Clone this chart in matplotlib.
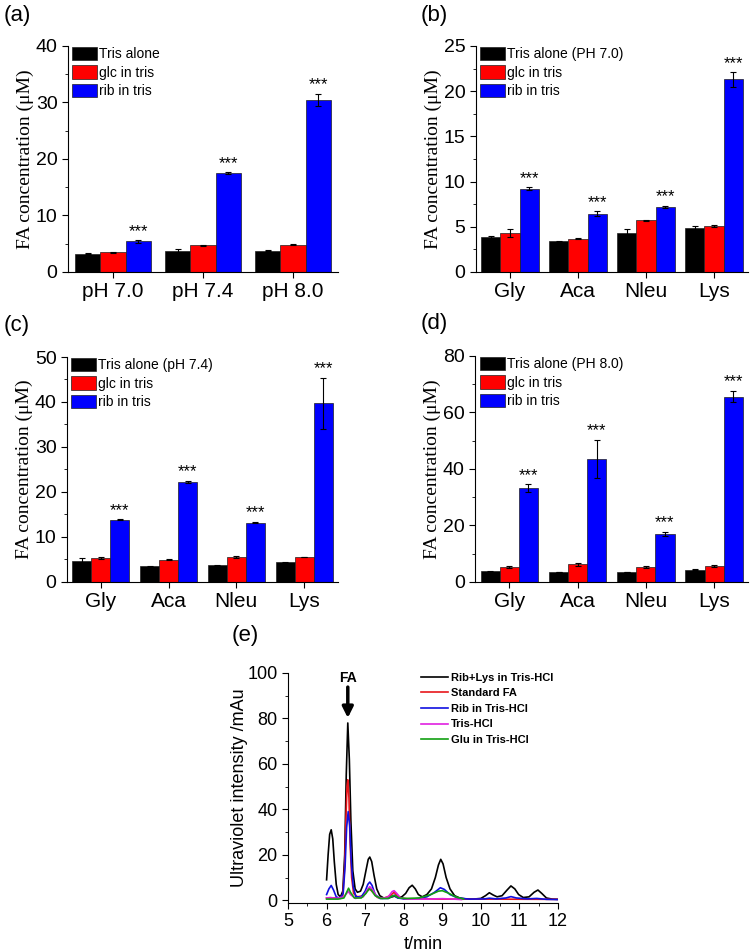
import matplotlib.pyplot as plt
from matplotlib.ticker import AutoMinorLocator, MultipleLocator

plt.rcParams['font.family'] = ['Liberation Sans', 'DejaVu Sans']

colors = ['#000000', '#ff0000', '#0000ff']

# (a) pH series
a_groups = ['pH 7.0', 'pH 7.4', 'pH 8.0']
a_tris = [3.2, 3.7, 3.8]
a_tris_err = [0.1, 0.4, 0.1]
a_glc = [3.5, 4.7, 4.85]
a_glc_err = [0.1, 0.1, 0.1]
a_rib = [5.4, 17.5, 30.4]
a_rib_err = [0.2, 0.15, 1.1]
a_labels = ['Tris alone', 'glc in tris', 'rib in tris']

amino = ['Gly', 'Aca', 'Nleu', 'Lys']

# (b) pH 7.0
b_tris = [3.85, 3.4, 4.3, 4.9]
b_tris_err = [0.1, 0.05, 0.4, 0.15]
b_glc = [4.3, 3.7, 5.7, 5.05]
b_glc_err = [0.45, 0.05, 0.05, 0.1]
b_rib = [9.2, 6.45, 7.2, 21.3]
b_rib_err = [0.15, 0.25, 0.15, 0.8]
b_labels = ['Tris alone (PH 7.0)', 'glc in tris', 'rib in tris']

# (c) pH 7.4
c_tris = [4.6, 3.5, 3.7, 4.35]
c_tris_err = [0.7, 0.15, 0.1, 0.1]
c_glc = [5.35, 4.95, 5.55, 5.55]
c_glc_err = [0.2, 0.1, 0.2, 0.1]
c_rib = [13.8, 22.3, 13.2, 39.7]
c_rib_err = [0.1, 0.2, 0.2, 5.7]
c_labels = ['Tris alone (pH 7.4)', 'glc in tris', 'rib in tris']

# (d) pH 8.0
d_tris = [3.75, 3.6, 3.6, 4.4]
d_tris_err = [0.2, 0.1, 0.1, 0.2]
d_glc = [5.3, 6.2, 5.2, 5.7]
d_glc_err = [0.2, 0.5, 0.3, 0.3]
d_rib = [33.2, 43.6, 17.0, 65.6]
d_rib_err = [1.3, 6.8, 0.8, 2.0]
d_labels = ['Tris alone (PH 8.0)', 'glc in tris', 'rib in tris']

# (e) chromatograms
t_riblys = [6.00, 6.04, 6.08, 6.12, 6.16, 6.20, 6.25, 6.30, 6.36, 6.42, 6.47, 6.51, 6.55,
            6.59, 6.63, 6.68, 6.74, 6.80, 6.88, 6.95, 7.02, 7.08, 7.12, 7.17, 7.23, 7.30,
            7.38, 7.48, 7.60, 7.70, 7.76, 7.84, 7.95, 8.05, 8.14, 8.22, 8.30, 8.38, 8.48,
            8.60, 8.72, 8.82, 8.90, 8.96, 9.02, 9.10, 9.20, 9.32, 9.45, 9.60, 9.80, 10.00,
            10.12, 10.22, 10.32, 10.42, 10.55, 10.68, 10.78, 10.88, 10.98, 11.10, 11.25,
            11.38, 11.48, 11.58, 11.70, 11.85, 12.00]
y_riblys = [9, 20, 29, 31, 27, 17, 7, 2.5, 1.5, 4, 20, 55, 78,
            62, 35, 13, 5, 3.5, 4, 7, 13, 18, 19, 17, 11, 5,
            2, 1, 1, 1.5, 1.8, 1.2, 1.5, 3, 5.5, 6.6, 5, 2.5, 1.5,
            2.5, 5, 10, 15.5, 18, 16, 10, 5, 2, 1, 0.6, 0.5, 0.8,
            2, 3.3, 2.3, 1.5, 2, 4.5, 6.3, 5, 2.5, 1.2, 1.5,
            3.5, 4.5, 3, 1, 0.5, 0.4]

t_std = [6.00, 6.20, 6.35, 6.42, 6.47, 6.50, 6.53, 6.55, 6.58, 6.61, 6.65, 6.70, 6.80,
         6.95, 7.05, 7.12, 7.20, 7.32, 7.50, 7.65, 7.75, 7.85, 8.00, 9.00, 10.00, 12.00]
y_std = [1, 1, 1, 2, 15, 35, 50, 53, 45, 25, 10, 3, 1.5,
         2, 4, 5, 3.5, 1.2, 1, 2, 3.5, 1.5, 0.7, 0.5, 0.5, 0.4]

t_rib = [6.00, 6.06, 6.12, 6.18, 6.25, 6.35, 6.43, 6.48, 6.52, 6.56, 6.60, 6.64, 6.69,
         6.76, 6.90, 7.00, 7.07, 7.12, 7.18, 7.26, 7.38, 7.60, 7.70, 7.76, 7.84, 8.00,
         8.30, 8.60, 8.80, 8.95, 9.05, 9.20, 9.40, 9.70, 10.10, 10.22, 10.40, 10.65,
         10.78, 10.92, 11.20, 11.45, 11.70, 12.00]
y_rib = [2.5, 5, 6.5, 4.5, 1.5, 0.8, 3, 15, 32, 39, 33, 17, 6,
         1.5, 1.5, 4, 7, 8, 6.5, 2.5, 0.8, 0.8, 1.8, 2.2, 1.0, 0.6,
         0.6, 1.5, 3.5, 5.5, 4.8, 2.5, 1, 0.5, 0.6, 0.9, 0.6, 1,
         1.6, 1, 0.6, 0.8, 0.4, 0.3]

t_tris = [6.00, 6.10, 6.25, 6.45, 6.52, 6.56, 6.62, 6.75, 6.95, 7.05, 7.12, 7.20, 7.30,
          7.45, 7.60, 7.70, 7.75, 7.82, 7.92, 8.10, 8.60, 9.00, 9.30, 9.50]
y_tris = [1, 1.2, 0.8, 1.5, 3, 4, 2.5, 0.8, 1.5, 4.5, 6, 4.5, 1.5,
          0.8, 1.5, 3.8, 4.2, 3, 1, 0.5, 0.5, 0.7, 0.5, 0.3]

t_glu = [6.00, 6.30, 6.45, 6.52, 6.57, 6.62, 6.72, 6.90, 7.02, 7.10, 7.16, 7.26, 7.40,
         7.60, 7.72, 7.78, 7.88, 8.10, 8.40, 8.70, 8.90, 9.00, 9.15, 9.35, 9.55]
y_glu = [0.5, 0.5, 1, 3.5, 5.3, 3.5, 1, 1, 3, 5, 4.5, 2, 0.8,
         0.8, 2, 2, 1, 0.8, 1, 2.5, 4, 4.2, 3.2, 1.5, 0.5]

e_labels = ['Rib+Lys in Tris-HCl', 'Standard FA', 'Rib in Tris-HCl', 'Tris-HCl',
            'Glu in Tris-HCl']
e_colors = ['#000000', '#e8161b', '#1010e0', '#e020e0', '#12a012']


def bar_panel(ax, groups, vals, errs, labels, ymax, ystep, lab_x):
    n = len(groups)
    w = 0.28
    for k in range(3):
        xs = [i + (k - 1) * w for i in range(n)]
        ax.bar(xs, vals[k], w, color=colors[k], edgecolor='#202020', linewidth=0.5,
               label=labels[k])
        ax.errorbar(xs, vals[k], yerr=errs[k], fmt='none', ecolor='k', elinewidth=0.8,
                    capsize=2, capthick=0.8)
    for i in range(n):
        ax.annotate('***', (i + w, vals[2][i] + errs[2][i]), xytext=(0, 1),
                    textcoords='offset points', ha='center', va='bottom', fontsize=12)
    ax.set_xlim(-0.5, n - 0.5)
    ax.set_ylim(0, ymax)
    ax.set_xticks(range(n))
    ax.set_xticklabels(groups)
    ax.yaxis.set_major_locator(MultipleLocator(ystep))
    ax.yaxis.set_minor_locator(AutoMinorLocator(2))
    ax.spines['top'].set_visible(False)
    ax.spines['right'].set_visible(False)
    ax.tick_params(labelsize=14, direction='out', length=4)
    ax.tick_params(axis='x', labelsize=15)
    ax.tick_params(which='minor', direction='out', length=2)
    ax.set_ylabel('FA concentration (\u03bcM)', family='Liberation Serif', fontsize=14)
    ax.yaxis.set_label_coords(lab_x, 0.5)
    ax.legend(loc='upper left', bbox_to_anchor=(-0.02, 1.04), frameon=False, fontsize=10,
              handlelength=1.8, handleheight=1.1, handletextpad=0.15, labelspacing=0.3,
              borderaxespad=0.3)


fig = plt.figure(figsize=(7.52, 9.52), dpi=100)

ax_a = fig.add_axes([0.0904, 0.7143, 0.359, 0.2374])
bar_panel(ax_a, a_groups, [a_tris, a_glc, a_rib], [a_tris_err, a_glc_err, a_rib_err],
          a_labels, 40, 10, -0.125)

ax_b = fig.add_axes([0.633, 0.7143, 0.3617, 0.2374])
bar_panel(ax_b, amino, [b_tris, b_glc, b_rib], [b_tris_err, b_glc_err, b_rib_err],
          b_labels, 25, 5, -0.125)

ax_c = fig.add_axes([0.089, 0.3887, 0.3604, 0.2363])
bar_panel(ax_c, amino, [c_tris, c_glc, c_rib], [c_tris_err, c_glc_err, c_rib_err],
          c_labels, 50, 10, -0.125)

ax_d = fig.add_axes([0.632, 0.3887, 0.363, 0.2374])
bar_panel(ax_d, amino, [d_tris, d_glc, d_rib], [d_tris_err, d_glc_err, d_rib_err],
          d_labels, 80, 20, -0.125)

ax_e = fig.add_axes([0.383, 0.0515, 0.359, 0.2416])
traces = [(t_riblys, y_riblys), (t_std, y_std), (t_rib, y_rib), (t_tris, y_tris),
          (t_glu, y_glu)]
for (t, y), lab, col in zip(traces, e_labels, e_colors):
    ax_e.plot(t, y, color=col, lw=1.2, label=lab)
ax_e.set_xlim(5, 12)
ax_e.set_ylim(-1.2, 100)
ax_e.xaxis.set_major_locator(MultipleLocator(1))
ax_e.xaxis.set_minor_locator(AutoMinorLocator(2))
ax_e.yaxis.set_major_locator(MultipleLocator(20))
ax_e.yaxis.set_minor_locator(AutoMinorLocator(2))
ax_e.spines['top'].set_visible(False)
ax_e.spines['right'].set_visible(False)
ax_e.tick_params(labelsize=13, direction='out', length=4)
ax_e.tick_params(which='minor', direction='out', length=2)
ax_e.set_xlabel('t/min', fontsize=13)
ax_e.set_ylabel('Ultraviolet intensity /mAu', fontsize=13)
ax_e.yaxis.set_label_coords(-0.15, 0.5)
ax_e.text(6.55, 98, 'FA', ha='center', va='center', fontsize=10, fontweight='bold')
ax_e.annotate('', xy=(6.55, 79), xytext=(6.55, 95),
              arrowprops=dict(arrowstyle='-|>', lw=2.5, color='k', mutation_scale=16))
ax_e.legend(loc='upper right', bbox_to_anchor=(1.0, 1.02), frameon=False,
            prop={'size': 8, 'weight': 'bold'}, handlelength=2.4, handletextpad=0.3,
            labelspacing=0.5, borderaxespad=0)

fig.text(0.005, 1 - 16 / 952, '(a)', fontsize=16, va='center')
fig.text(421 / 752, 1 - 16 / 952, '(b)', fontsize=16, va='center')
fig.text(0.005, 1 - 325 / 952, '(c)', fontsize=16, va='center')
fig.text(421 / 752, 1 - 323 / 952, '(d)', fontsize=16, va='center')
fig.text(232 / 752, 1 - 636 / 952, '(e)', fontsize=16, va='center')

fig.savefig('out.png', dpi=100)
